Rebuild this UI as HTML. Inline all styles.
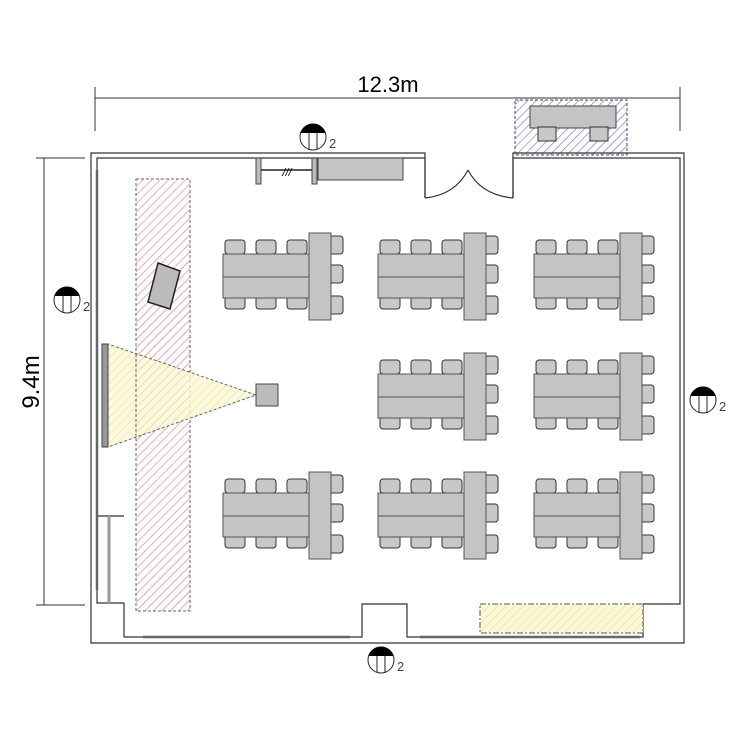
<!DOCTYPE html>
<html><head><meta charset="utf-8"><style>html,body{margin:0;padding:0;background:#fff}svg{display:block}</style></head>
<body>
<svg width="748" height="748" viewBox="0 0 748 748" xmlns="http://www.w3.org/2000/svg" font-family="Liberation Sans, sans-serif">
<defs>
<pattern id="red" width="6" height="6" patternUnits="userSpaceOnUse" patternTransform="rotate(45)"><rect width="6" height="6" fill="#fff"/><line x1="0" y1="0" x2="0" y2="6" stroke="#e07a80" stroke-width="1.2"/></pattern>
<pattern id="yel" width="6" height="6" patternUnits="userSpaceOnUse" patternTransform="rotate(45)"><rect width="6" height="6" fill="#fbf8d8"/><line x1="0" y1="0" x2="0" y2="6" stroke="#e8dc90" stroke-width="1.2"/></pattern>
<pattern id="blue" width="6" height="6" patternUnits="userSpaceOnUse" patternTransform="rotate(45)"><rect width="6" height="6" fill="#fff"/><line x1="0" y1="0" x2="0" y2="6" stroke="#6a6ab8" stroke-width="1.2"/></pattern>
<g id="ch"><rect x="0" y="0" width="20" height="14" rx="3" fill="#c8c8c8" stroke="#333" stroke-width="1"/></g>
<g id="cl">
 <use href="#ch" x="3" y="240"/><use href="#ch" x="34" y="240"/><use href="#ch" x="65" y="240"/>
 <use href="#ch" x="3" y="295"/><use href="#ch" x="34" y="295"/><use href="#ch" x="65" y="295"/>
 <rect x="1" y="254" width="86" height="44" fill="#c4c4c4" stroke="#555"/>
 <line x1="1" y1="277" x2="87" y2="277" stroke="#555"/>
 <rect x="105" y="236" width="16" height="18" rx="3" fill="#c8c8c8" stroke="#333"/>
 <rect x="105" y="265" width="16" height="18" rx="3" fill="#c8c8c8" stroke="#333"/>
 <rect x="105" y="296" width="16" height="18" rx="3" fill="#c8c8c8" stroke="#333"/>
 <rect x="87" y="233" width="22" height="87" fill="#c4c4c4" stroke="#555"/>
</g>
<g id="mk"><circle cx="0" cy="0" r="13" fill="#fff" stroke="#222"/><path d="M-12.5,-4 A13,13 0 0 1 12.5,-4 Z" fill="#000"/><line x1="-4" y1="-4" x2="-4" y2="12.4" stroke="#222"/><line x1="4" y1="-4" x2="4" y2="12.4" stroke="#222"/></g>
</defs>

<line x1="95" y1="98" x2="680" y2="98" stroke="#333"/>
<line x1="95" y1="87" x2="95" y2="131" stroke="#333"/>
<line x1="680" y1="87" x2="680" y2="131" stroke="#333"/>
<text x="388" y="92" font-size="22" text-anchor="middle">12.3m</text>
<line x1="44" y1="158" x2="44" y2="605" stroke="#333"/>
<line x1="36" y1="158" x2="85" y2="158" stroke="#333"/>
<line x1="36" y1="605" x2="85" y2="605" stroke="#333"/>
<text transform="translate(39 382) rotate(-90)" font-size="24" text-anchor="middle">9.4m</text>

<rect x="515" y="100" width="112" height="55" fill="url(#blue)" stroke="#446" stroke-dasharray="3 2"/>
<rect x="530" y="106" width="86" height="22" fill="#c4c4c4" stroke="#444"/>
<rect x="538" y="127" width="18" height="14" fill="#c8c8c8" stroke="#333"/>
<rect x="590" y="127" width="18" height="14" fill="#c8c8c8" stroke="#333"/>

<g fill="none" stroke="#333" stroke-width="1.2">
<path d="M425,198 V153 H91 V643 H684 V153 H513 V198"/>
<path d="M425,198 V158 H97 V603 H124 V637 H362 V604 H407 V637 H643 V604 H680 V158 H513 V198"/>
<path d="M425,198 Q455,195 468,170 M513,198 Q481,195 468,170"/>
<path d="M97,516 H124 M109,516 V603"/>
</g>
<g stroke="#666" stroke-width="2.5">
<line x1="97" y1="170" x2="97" y2="590"/>
<line x1="143" y1="637" x2="350" y2="637"/>
<line x1="420" y1="637" x2="640" y2="637"/>
</g>
<line x1="109" y1="516" x2="109" y2="603" stroke="#999" stroke-width="3"/>

<rect x="256" y="158" width="5" height="26" fill="#bbb" stroke="#444"/>
<rect x="312" y="158" width="5" height="26" fill="#bbb" stroke="#444"/>
<line x1="261" y1="170" x2="312" y2="170" stroke="#222" stroke-width="1.5"/>
<text x="287" y="176" font-size="11" font-style="italic" text-anchor="middle">///</text>
<rect x="318" y="158" width="85" height="22" fill="#c4c4c4" stroke="#444"/>

<rect x="136" y="179" width="54" height="432" fill="url(#red)" stroke="#666" stroke-dasharray="3 2"/>
<polygon points="158,263 180,271 170,309 148,302" fill="#bbb" stroke="#222" stroke-width="1.5"/>
<polygon points="108,344 108,447 256,395" fill="url(#yel)" fill-opacity="0.85" stroke="#666" stroke-dasharray="3 2"/>
<line x1="136" y1="354" x2="136" y2="437" stroke="#666" stroke-dasharray="3 2"/>
<rect x="102" y="344" width="6" height="103" fill="#999" stroke="#444"/>
<rect x="256" y="384" width="22" height="22" fill="#bbb" stroke="#444"/>

<use href="#cl" x="222" y="0"/>
<use href="#cl" x="377" y="0"/>
<use href="#cl" x="533" y="0"/>
<use href="#cl" x="377" y="120"/>
<use href="#cl" x="533" y="120"/>
<use href="#cl" x="222" y="239"/>
<use href="#cl" x="377" y="239"/>
<use href="#cl" x="533" y="239"/>

<rect x="480" y="604" width="163" height="29" fill="url(#yel)" stroke="#555" stroke-dasharray="6 2 2 2"/>

<use href="#mk" x="313" y="137"/><text x="329" y="148" font-size="13" fill="#444">2</text>
<use href="#mk" x="67" y="300"/><text x="83" y="311" font-size="13" fill="#444">2</text>
<use href="#mk" x="703" y="400"/><text x="719" y="411" font-size="13" fill="#444">2</text>
<use href="#mk" x="381" y="660"/><text x="397" y="671" font-size="13" fill="#444">2</text>
</svg>
</body></html>
